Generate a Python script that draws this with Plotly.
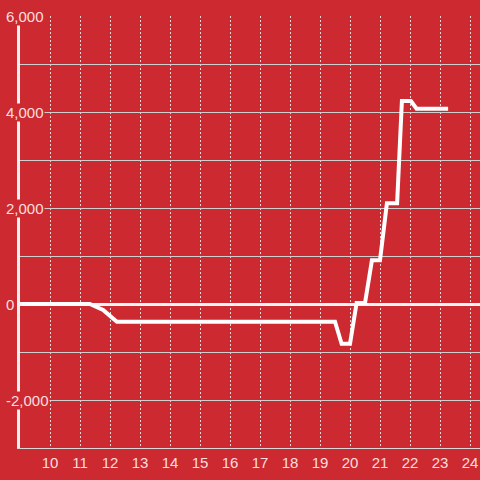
import plotly.graph_objects as go

# hours of day vs. cumulative value
hours = [9, 11.33, 11.77, 12.23, 19.5, 19.72, 20.0, 20.22, 20.5,
         20.73, 21.0, 21.23, 21.57, 21.73, 22.03, 22.22, 23.27]
values = [0, 0, -125, -370, -370, -830, -830, 20, 20,
          910, 910, 2100, 2100, 4230, 4230, 4070, 4070]

x_ticks = list(range(10, 25))
y_label_vals = [-2000, 0, 2000, 4000, 6000]
y_label_text = ["-2,000", "0", "2,000", "4,000", "6,000"]

BG = "#cc2a30"
TXT = "rgba(255,240,240,0.92)"

fig = go.Figure()
fig.add_trace(go.Scatter(
    x=hours, y=values, mode="lines",
    line=dict(color="white", width=4),
    showlegend=False, hoverinfo="skip",
))

fig.update_layout(
    width=480, height=480,
    margin=dict(l=20, r=0, t=16, b=32, autoexpand=False),
    paper_bgcolor=BG, plot_bgcolor=BG,
    font=dict(family="Liberation Sans, Arial, sans-serif", size=15, color=TXT),
)

fig.update_xaxes(
    range=[9, 24.333], tickmode="array", tickvals=x_ticks,
    showgrid=True, gridcolor="rgba(235,235,235,0.9)", gridwidth=1, griddash="2px,2px",
    showline=True, linecolor="#d8d8d8", linewidth=1,
    ticks="outside", ticklen=1, tickcolor="rgba(0,0,0,0)",
    tickfont=dict(size=15, color=TXT),
    zeroline=False, automargin=False,
)

fig.update_yaxes(
    range=[-3000, 6000], dtick=1000,
    showgrid=True, gridcolor="#cfcfcf", gridwidth=1,
    showticklabels=False,
    zeroline=True, zerolinecolor="#f4f4f4", zerolinewidth=3,
    showline=True, linecolor="#f0f0f0", linewidth=3,
    automargin=False,
)

# y tick labels sit over the axis line with a background box
for v, t in zip(y_label_vals, y_label_text):
    fig.add_annotation(
        x=-0.0326, xref="paper", y=v, yref="y",
        text=t, showarrow=False, xanchor="left", yanchor="middle",
        bgcolor=BG, borderpad=0,
        font=dict(size=15, color=TXT),
    )

# no page margin so the 480x480 figure fills the window
fig.write_html(
    "out.html",
    config={"displayModeBar": False},
    post_script="document.body.style.margin='0';document.body.style.overflow='hidden';",
)
